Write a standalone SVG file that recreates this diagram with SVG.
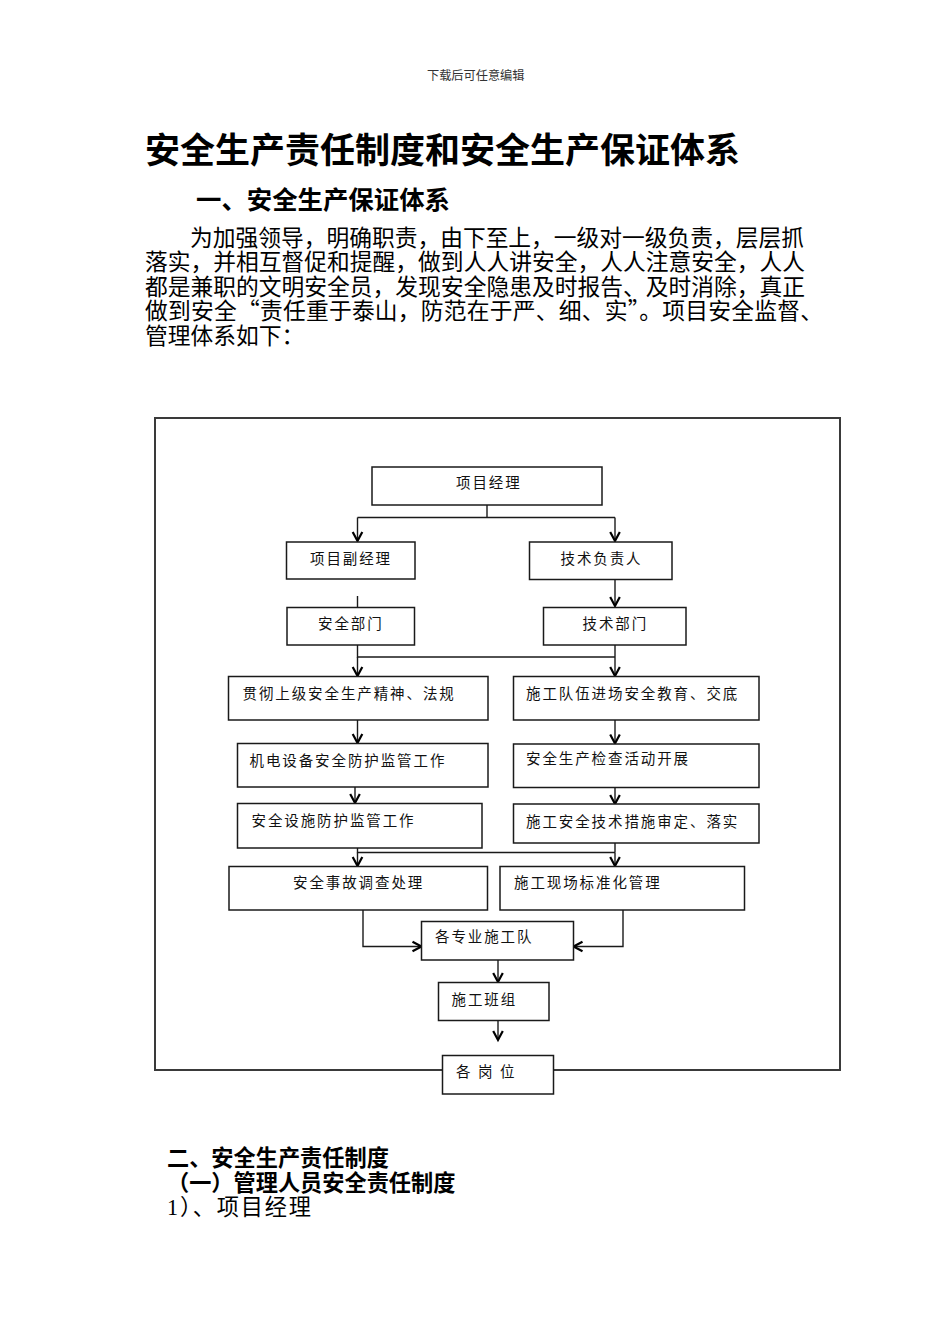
<svg xmlns="http://www.w3.org/2000/svg" width="950" height="1344" viewBox="0 0 950 1344">
<style>
.hd{font-family:"Noto Sans CJK SC","Noto Sans CJK JP",sans-serif;font-size:12.2px;fill:#333}
.title{font-family:"Noto Sans CJK SC",sans-serif;font-size:35px;font-weight:bold;fill:#000}
.h1{font-family:"Noto Sans CJK SC",sans-serif;font-size:25.4px;font-weight:bold;fill:#000}
.h2{font-family:"Noto Sans CJK SC",sans-serif;font-size:22.2px;font-weight:bold;fill:#000}
.p{font-family:"Noto Sans CJK SC",sans-serif;font-size:22.75px;fill:#000}
.p2{font-family:"Liberation Serif","Noto Sans CJK SC",serif;font-size:22.2px;fill:#000}
.box{fill:#fff;stroke:#1a1a1a;stroke-width:1.5}
.t{font-family:"Noto Sans CJK SC",sans-serif;font-size:14.5px;letter-spacing:1.9px;fill:#111}
.frame{fill:none;stroke:#3a3a3a;stroke-width:2}
.ln{fill:none;stroke:#1a1a1a;stroke-width:1.4}
.ar{fill:none;stroke:#1a1a1a;stroke-width:1.4;marker-end:url(#v)}
</style>
<defs>
<marker id="v" viewBox="-11 -7 13 14" refX="0" refY="0" markerWidth="13" markerHeight="14" markerUnits="userSpaceOnUse" orient="auto" overflow="visible">
<path d="M-9,-4.8 L0,0 L-9,4.8" fill="none" stroke="#000" stroke-width="2.2"/>
</marker>
</defs>
<rect width="950" height="1344" fill="#fff"/>

<text class="hd" x="427" y="79.5">下载后可任意编辑</text>
<text class="title" x="145" y="163">安全生产责任制度和安全生产保证体系</text>
<text class="h1" x="196" y="209">一、安全生产保证体系</text>

<text class="p" x="190" y="245.5" textLength="614" lengthAdjust="spacing">为加强领导，明确职责，由下至上，一级对一级负责，层层抓</text>
<text class="p" x="145" y="270" textLength="660" lengthAdjust="spacing">落实，并相互督促和提醒，做到人人讲安全，人人注意安全，人人</text>
<text class="p" x="145" y="294.5" textLength="660" lengthAdjust="spacing">都是兼职的文明安全员，发现安全隐患及时报告、及时消除，真正</text>
<text class="p" x="145" y="319" textLength="678" lengthAdjust="spacing">做到安全“责任重于泰山，防范在于严、细、实”。项目安全监督、</text>
<text class="p" x="145" y="343.5">管理体系如下：</text>

<rect class="frame" x="155" y="418" width="685" height="652"/>

<g id="connectors">
<path class="ln" d="M487,505 V517.5 H357.5 M487,517.5 H615"/>
<path class="ar" d="M357.5,517.5 V541"/>
<path class="ar" d="M615,517.5 V541"/>
<path class="ar" d="M357.5,596 V623"/>
<path class="ar" d="M615,580 V606"/>
<path class="ln" d="M357.5,645 V657 H615 M615,645 V657"/>
<path class="ar" d="M357.5,657 V676"/>
<path class="ar" d="M615,657 V676"/>
<path class="ar" d="M357.5,720 V743"/>
<path class="ar" d="M615,720 V743.5"/>
<path class="ar" d="M355,787 V803"/>
<path class="ar" d="M615,787 V804"/>
<path class="ln" d="M357.5,848 V852.5 H615 M615,843 V852.5"/>
<path class="ar" d="M357.5,852.5 V866"/>
<path class="ar" d="M615,852.5 V866"/>
<path class="ar" d="M363,910 V946.5 H421.5"/>
<path class="ar" d="M623,910 V946.5 H573.5"/>
<path class="ar" d="M498,960 V982"/>
<path class="ar" d="M498,1020 V1040"/>
</g>

<g id="n1"><rect class="box" x="372" y="467" width="230" height="38"/><text class="t" x="456" y="488">项目经理</text></g>
<g id="n2"><rect class="box" x="286.5" y="542" width="128.5" height="37"/><text class="t" x="310" y="564">项目副经理</text></g>
<g id="n3"><rect class="box" x="529.5" y="542" width="142.5" height="37.5"/><text class="t" x="560.5" y="564">技术负责人</text></g>
<g id="n4"><rect class="box" x="287" y="607.5" width="127.5" height="37.5"/><text class="t" x="318" y="629">安全部门</text></g>
<g id="n5"><rect class="box" x="543.5" y="607.5" width="142.5" height="37.5"/><text class="t" x="582.5" y="629">技术部门</text></g>
<g id="n6"><rect class="box" x="228.5" y="676.5" width="259.5" height="43.5"/><text class="t" x="242.5" y="699">贯彻上级安全生产精神、法规</text></g>
<g id="n7"><rect class="box" x="513.5" y="676.5" width="245.5" height="43.5"/><text class="t" x="526" y="699">施工队伍进场安全教育、交底</text></g>
<g id="n8"><rect class="box" x="237.5" y="743.5" width="250.5" height="43.5"/><text class="t" x="249.5" y="765.5">机电设备安全防护监管工作</text></g>
<g id="n9"><rect class="box" x="513.5" y="744" width="245.5" height="43.5"/><text class="t" x="526" y="764">安全生产检查活动开展</text></g>
<g id="n10"><rect class="box" x="237.5" y="803.5" width="244.5" height="44.5"/><text class="t" x="251.5" y="826">安全设施防护监管工作</text></g>
<g id="n11"><rect class="box" x="513.5" y="804" width="245.5" height="39"/><text class="t" x="526" y="827">施工安全技术措施审定、落实</text></g>
<g id="n12"><rect class="box" x="229" y="866.5" width="258.5" height="43.5"/><text class="t" x="293" y="887.5">安全事故调查处理</text></g>
<g id="n13"><rect class="box" x="500" y="866.5" width="244.5" height="43.5"/><text class="t" x="514" y="887.5">施工现场标准化管理</text></g>
<g id="n14"><rect class="box" x="421.5" y="921.5" width="152" height="38.5"/><text class="t" x="435" y="941.5">各专业施工队</text></g>
<g id="n15"><rect class="box" x="438.5" y="982.5" width="110.5" height="38"/><text class="t" x="451.5" y="1004.5">施工班组</text></g>
<g id="n16"><rect class="box" x="442.5" y="1055.5" width="111" height="38.5"/><text class="t" x="456" y="1077" style="letter-spacing:7.5px">各岗位</text></g>

<text class="h2" x="167" y="1166">二、安全生产责任制度</text>
<text class="h2" x="167" y="1190.5">（一）管理人员安全责任制度</text>
<text class="p2" x="167" y="1215" textLength="144" lengthAdjust="spacing">1）、项目经理</text>
</svg>
